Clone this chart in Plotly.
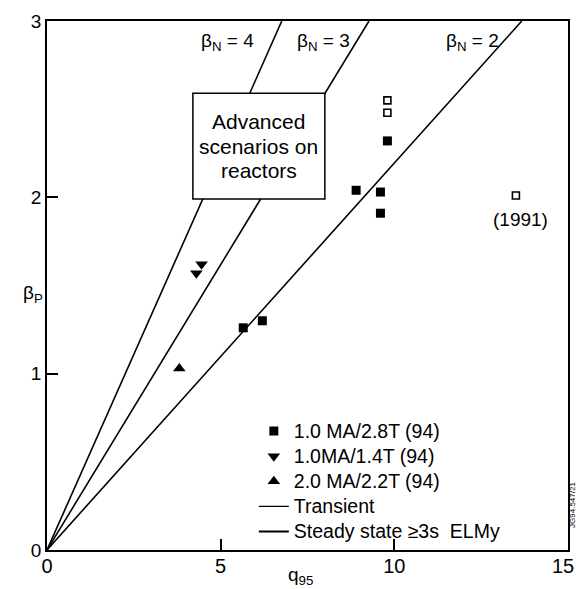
import plotly.graph_objects as go

# ---- data ----
sq_x = [5.65, 6.2, 8.9, 9.6, 9.6, 9.8]
sq_y = [1.26, 1.30, 2.04, 2.03, 1.91, 2.32]

open_x = [9.8, 9.8, 13.5]
open_y = [2.55, 2.48, 2.01]

tdown_x = [4.3, 4.45]
tdown_y = [1.57, 1.62]

tup_x = [3.81]
tup_y = [1.03]

beta_n = [4, 3, 2]
beta_top_q = [6.76, 9.27, 13.67]   # q95 where each beta_N line reaches beta_p = 3
beta_top_p = 3.0
beta_label_q = [5.2, 7.95, 12.25]  # label centres
beta_label_p = 2.88

box_lines = ["Advanced", "scenarios on", "reactors"]
box_line_p = [2.43, 2.29, 2.155]

x_ticks = [0, 5, 10, 15]
x_tick_text = ["0", "5", "10", "15\u2002"]
y_ticks = [0, 1, 2, 3]

FONT = "Liberation Sans, Arial, Helvetica, sans-serif"

fig = go.Figure()

for bn, qt in zip(beta_n, beta_top_q):
    fig.add_trace(go.Scatter(x=[0, qt], y=[0, beta_top_p], mode="lines",
                             line=dict(color="black", width=1.6),
                             showlegend=False, hoverinfo="skip"))


def lg(t):
    return f'<span style="font-size:19.5px">{t}</span>'


fig.add_trace(go.Scatter(x=sq_x, y=sq_y, mode="markers", name=lg("1.0 MA/2.8T (94)"),
                         marker=dict(symbol="square", size=9, color="black")))
fig.add_trace(go.Scatter(x=tdown_x, y=tdown_y, mode="markers", name=lg("1.0MA/1.4T (94)"),
                         marker=dict(symbol="triangle-down", size=11, color="black")))
fig.add_trace(go.Scatter(x=tup_x, y=tup_y, mode="markers", name=lg("2.0 MA/2.2T (94)"),
                         marker=dict(symbol="triangle-up", size=11, color="black")))
fig.add_trace(go.Scatter(x=[None], y=[None], mode="lines", name=lg("Transient"),
                         line=dict(color="black", width=1.2)))
fig.add_trace(go.Scatter(x=[None], y=[None], mode="lines", name=lg("Steady state ≥3s  ELMy"),
                         line=dict(color="black", width=2)))
fig.add_trace(go.Scatter(x=open_x, y=open_y, mode="markers", showlegend=False,
                         marker=dict(symbol="square-open", size=7, color="black",
                                     line=dict(width=1.6))))

# box "Advanced scenarios on reactors" (covers the beta_N lines)
fig.add_shape(type="rect", xref="x", yref="y", x0=4.2, x1=8.0, y0=1.99, y1=2.59,
              fillcolor="white", line=dict(color="black", width=1.5), layer="above")
for t, p in zip(box_lines, box_line_p):
    fig.add_annotation(x=6.1, y=p, xref="x", yref="y", showarrow=False, text=t,
                       font=dict(size=21, color="black", family=FONT), align="center")

# beta_N labels
for bn, qx in zip(beta_n, beta_label_q):
    fig.add_annotation(x=qx, y=beta_label_p, xref="x", yref="y", showarrow=False,
                       text=f"β<sub>N</sub> = {bn}",
                       font=dict(size=19, color="black", family=FONT))

fig.add_annotation(x=13.62, y=1.875, xref="x", yref="y", showarrow=False, text="(1991)",
                   font=dict(size=19, color="black", family=FONT))

# axis titles
fig.add_annotation(x=-0.027, y=0.483, xref="paper", yref="paper", showarrow=False,
                   text="β<sub>P</sub>", xanchor="center", yanchor="middle",
                   font=dict(size=19, color="black", family=FONT))
fig.add_annotation(x=0.487, y=-0.049, xref="paper", yref="paper", showarrow=False,
                   text="q<sub>95</sub>", xanchor="center", yanchor="middle",
                   font=dict(size=19, color="black", family=FONT))

# figure id stamp on right edge
fig.add_annotation(x=1.0075, y=0.085, xref="paper", yref="paper", showarrow=False,
                   text="JG94.547/21", textangle=-90, xanchor="center", yanchor="middle",
                   font=dict(size=8, color="black", family=FONT))

axis_common = dict(showline=True, linecolor="black", linewidth=1.6, mirror=True,
                   showgrid=False, zeroline=False, ticks="inside", ticklen=11,
                   tickwidth=1.5, tickcolor="black", ticklabeloverflow="allow",
                   automargin=False)

fig.update_xaxes(range=[0, 15], tickvals=x_ticks, ticktext=x_tick_text,
                 ticklabelstandoff=-3,
                 tickfont=dict(size=20, color="black", family=FONT), **axis_common)
fig.update_yaxes(range=[0, 3], tickvals=y_ticks, ticktext=[str(v) for v in y_ticks],
                 tickfont=dict(size=19, color="black", family=FONT), **axis_common)

fig.update_layout(
    width=576, height=589,
    margin=dict(l=47, r=8, t=21, b=39, autoexpand=False),
    plot_bgcolor="white", paper_bgcolor="white",
    font=dict(family=FONT, color="black"),
    legend=dict(x=0.397, y=0.258, xanchor="left", yanchor="top",
                bgcolor="rgba(0,0,0,0)", borderwidth=0,
                font=dict(size=17, color="black", family=FONT),
                itemwidth=30, tracegroupgap=0),
)

fig.write_html("out.html")
